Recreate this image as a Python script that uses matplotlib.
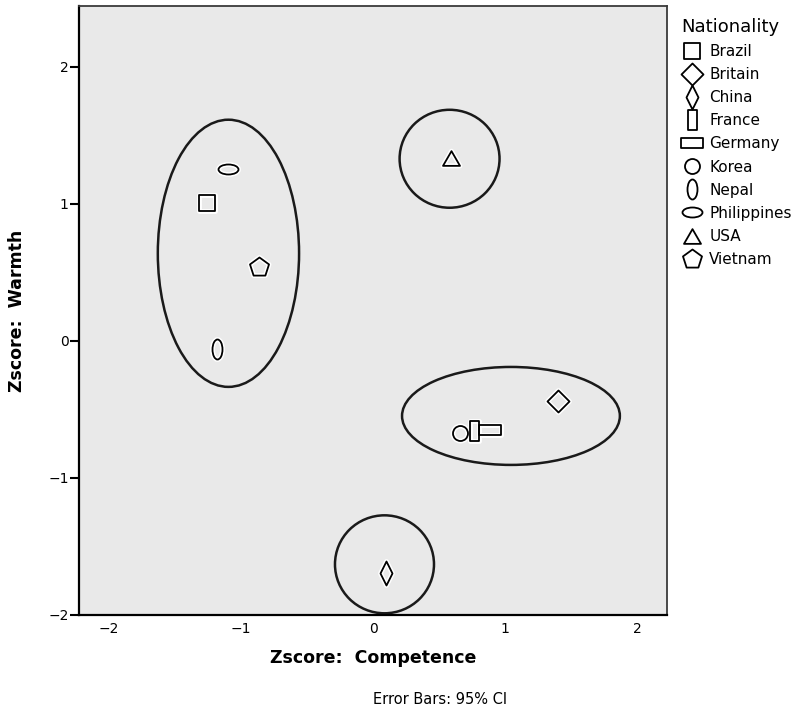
import matplotlib
matplotlib.use("Agg")
import matplotlib.pyplot as plt
from matplotlib.path import Path
from matplotlib.patches import Ellipse
from matplotlib.lines import Line2D
from matplotlib.transforms import Affine2D

# data
nations = ["Brazil", "Britain", "China", "France", "Germany",
           "Korea", "Nepal", "Philippines", "USA", "Vietnam"]
competence = [-1.26, 1.40, 0.10, 0.765, 0.89, 0.66, -1.18, -1.10, 0.59, -0.86]
warmth = [1.01, -0.44, -1.69, -0.655, -0.65, -0.67, -0.06, 1.255, 1.335, 0.54]

# hand-drawn cluster rings (center x, center y, width, height in z units)
ring_x = [-1.095, 0.58, 1.045, 0.087]
ring_y = [0.64, 1.33, -0.547, -1.63]
ring_w = [1.07, 0.757, 1.65, 0.75]
ring_h = [1.95, 0.715, 0.715, 0.715]

x_ticks = [-2, -1, 0, 1, 2]
y_ticks = [-2, -1, 0, 1, 2]


def rect(w, h):
    return Path([(-w / 2, -h / 2), (w / 2, -h / 2), (w / 2, h / 2), (-w / 2, h / 2), (-w / 2, -h / 2)],
                closed=True)


def oval(sx, sy):
    return Affine2D().scale(sx, sy).transform_path(Path.unit_circle())


def diamond(a):
    return Path([(0, -1), (a, 0), (0, 1), (-a, 0), (0, -1)], closed=True)


tri = Path([(-0.5, -0.433), (0.5, -0.433), (0, 0.433), (-0.5, -0.433)], closed=True)

shapes = [rect(1, 1), diamond(1), diamond(0.5), rect(0.45, 1), rect(1, 0.45),
          oval(1, 1), oval(0.5, 1), oval(1, 0.5), tri, Path.unit_regular_polygon(5)]
px = 100 / 72.
sizes = [16 / px, 22 / px, 24 / px, 20 / px, 22 / px, 15 / px, 20 / px, 20 / px, 17 / px, 20 / px]

fig = plt.figure(figsize=(7.97, 7.11), dpi=100)
ax = fig.add_axes([79 / 797, 1 - 615 / 711, 588 / 797, 609 / 711])
ax.set_facecolor("#e9e9e9")
ax.set_xlim(-2.227, 2.227)
ax.set_ylim(-2.0, 2.445)

for i in range(len(ring_x)):
    ax.add_patch(Ellipse((ring_x[i], ring_y[i]), ring_w[i], ring_h[i],
                         fill=False, ec="#1a1a1a", lw=1.8, zorder=2))

for i in range(len(nations)):
    ax.plot(competence[i], warmth[i], ls="none", marker=shapes[i], ms=sizes[i],
            mfc="none", mec="white", mew=3.5, zorder=3)
    ax.plot(competence[i], warmth[i], ls="none", marker=shapes[i], ms=sizes[i],
            mfc="none", mec="black", mew=1.3, zorder=4)

ax.set_xticks(x_ticks)
ax.set_yticks(y_ticks)
ax.tick_params(axis="x", length=0, pad=5, labelsize=10)
ax.tick_params(axis="y", length=6.5, width=1.5, pad=1, labelsize=10)
for s in ["left", "bottom"]:
    ax.spines[s].set_linewidth(1.6)
    ax.spines[s].set_color("black")
for s in ["top", "right"]:
    ax.spines[s].set_linewidth(1.3)
    ax.spines[s].set_color("#3a3a3a")

ax.set_xlabel("Zscore:  Competence", fontsize=12.5, fontweight="bold")
ax.xaxis.set_label_coords(0.5, -0.07)
ax.xaxis.label.set_va("center")
ax.set_ylabel("Zscore:  Warmth", fontsize=12.5, fontweight="bold")
ax.yaxis.set_label_coords(-0.105, 0.5)
ax.yaxis.label.set_va("center")

fig.text(440 / 797, 1 - 700 / 711, "Error Bars: 95% CI", fontsize=10.5, ha="center", va="center")

handles = [Line2D([], [], ls="none", marker=shapes[i], ms=sizes[i], mfc="none",
                  mec="black", mew=1.3) for i in range(len(nations))]
leg = fig.legend(handles, nations, loc="upper left", bbox_to_anchor=(681 / 797, 1 - 18 / 711),
                 frameon=False, title="Nationality", title_fontsize=13, fontsize=11,
                 handlelength=1.45, handletextpad=0.4, labelspacing=0.53,
                 borderpad=0, borderaxespad=0, alignment="left")

fig.savefig("out.png", dpi=100)
